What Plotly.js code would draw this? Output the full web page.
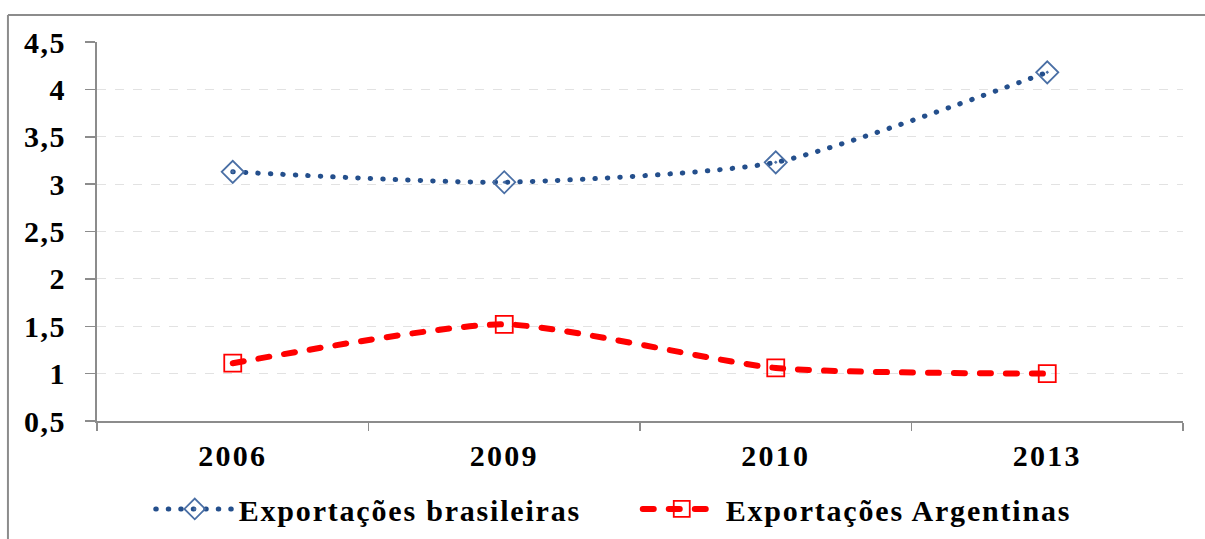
<!DOCTYPE html>
<html>
<head>
<meta charset="utf-8">
<script src="https://cdn.plot.ly/plotly-3.0.1.min.js"></script>
<style>
html,body{margin:0;padding:0;background:#fff;}
#chart{width:1205px;height:539px;}
.legendtext{letter-spacing:1.8px;}
.xtick text{letter-spacing:2.3px;}
.ytick text{letter-spacing:1.5px;}
.scatterlayer .js-line, .legendlines path{stroke-linecap:round;}
</style>
</head>
<body>
<div id="chart"></div>
<script>
var years = ['2006', '2009', '2010', '2013'];
var exportacoesBrasileiras = [3.13, 3.02, 3.23, 4.18];
var exportacoesArgentinas = [1.11, 1.52, 1.06, 1.00];
var yTickVals = [0.5, 1, 1.5, 2, 2.5, 3, 3.5, 4, 4.5];
var yTickText = ['0,5', '1', '1,5', '2', '2,5', '3', '3,5', '4', '4,5'];
var seriesNames = ['Exportações brasileiras', 'Exportações Argentinas'];

var FONT = 'Liberation Serif';

var traces = [
  {
    x: years, y: exportacoesBrasileiras, name: seriesNames[0],
    type: 'scatter', mode: 'lines+markers',
    line: {color: '#244F8C', width: 5, dash: '0.5px,12px', shape: 'spline', smoothing: 0.6},
    marker: {symbol: 'diamond-open-dot', size: 17, color: '#4A6FA5', line: {width: 1.8, color: '#4A6FA5'}}
  },
  {
    x: years, y: exportacoesArgentinas, name: seriesNames[1],
    type: 'scatter', mode: 'lines+markers',
    line: {color: '#FF0000', width: 6, dash: '11px,15px', shape: 'spline', smoothing: 0.6},
    marker: {symbol: 'square-open', size: 17, color: '#FF0000', line: {width: 1.8, color: '#FF0000'}}
  }
];

var layout = {
  width: 1205, height: 539,
  margin: {l: 97, r: 22, t: 42, b: 118, autoexpand: false},
  paper_bgcolor: '#fff', plot_bgcolor: '#fff',
  font: {family: FONT, color: '#000'},
  showlegend: true,
  legend: {
    orientation: 'h', x: 0.0495, xanchor: 'left', y: -0.232, yanchor: 'middle',
    font: {family: FONT, size: 30, color: '#000', weight: 'bold'},
    itemwidth: 78, tracegroupgap: 0,
    entrywidth: 394, entrywidthmode: 'pixels'
  },
  xaxis: {
    type: 'category', range: [-0.5, 3.5],
    showline: true, linecolor: '#8c8c8c', linewidth: 2,
    ticks: 'outside', tickson: 'boundaries', ticklen: 8, tickcolor: '#8c8c8c', tickwidth: 1.5,
    ticklabelstandoff: 7,
    showgrid: false, zeroline: false,
    tickfont: {family: FONT, size: 30, color: '#000', weight: 'bold'}
  },
  yaxis: {
    range: [0.5, 4.5], tickmode: 'array', tickvals: yTickVals, ticktext: yTickText,
    showline: true, linecolor: '#8c8c8c', linewidth: 2,
    ticks: 'outside', ticklen: 10, tickcolor: '#8c8c8c', tickwidth: 1.5,
    ticklabelstandoff: 13,
    showgrid: true, gridcolor: '#e2e2e2', gridwidth: 1, griddash: 'dash',
    zeroline: false,
    tickfont: {family: FONT, size: 30, color: '#000', weight: 'bold'}
  },
  shapes: [
    {type: 'line', xref: 'paper', yref: 'paper', x0: -0.082, x1: -0.082, y0: 1.0712, y1: -0.4,
      line: {color: '#8c8c8c', width: 2}},
    {type: 'line', xref: 'paper', yref: 'paper', x0: -0.082, x1: 1.1, y0: 1.0712, y1: 1.0712,
      line: {color: '#8c8c8c', width: 2}}
  ]
};

Plotly.newPlot('chart', traces, layout, {displayModeBar: false, staticPlot: true});
</script>
</body>
</html>
